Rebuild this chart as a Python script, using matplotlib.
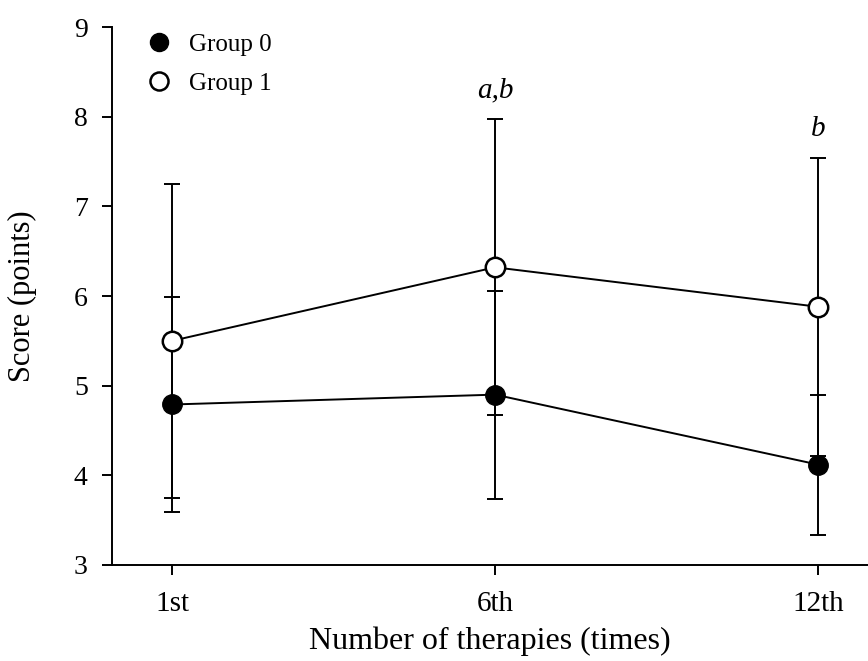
import numpy as np
import matplotlib
matplotlib.use("Agg")
import matplotlib.pyplot as plt
from matplotlib.lines import Line2D

plt.rcParams['font.family'] = ['Liberation Serif', 'DejaVu Serif']

# data
sessions = ['1st', '6th', '12th']
group0 = [4.79, 4.90, 4.12]
group0_sd = [1.20, 1.16, 0.78]
group1 = [5.50, 6.32, 5.88]
group1_sd = [1.75, 1.65, 1.66]
marks = ['', 'a,b', 'b']

x = np.arange(len(sessions))

fig = plt.figure(figsize=(8.68, 6.61), dpi=100)
ax = fig.add_axes([112/868, 96/661, 756/868, 538/661])

# error bars underneath the markers
ax.errorbar(x, group1, yerr=group1_sd, fmt='none', ecolor='black',
            elinewidth=1.4, capsize=6, capthick=1.4, zorder=1)
ax.errorbar(x, group0, yerr=group0_sd, fmt='none', ecolor='black',
            elinewidth=1.4, capsize=6, capthick=1.4, zorder=1)

ax.plot(x, group1, '-o', color='black', lw=1.4, markersize=14,
        markerfacecolor='white', markeredgewidth=1.8, zorder=3)
ax.plot(x, group0, '-o', color='black', lw=1.4, markersize=14,
        markerfacecolor='black', zorder=4)

# significance letters above the bars
for xi, m, v, sd in zip(x, marks, group1, group1_sd):
    if m:
        ax.text(xi, v + sd + 0.18, m, ha='center', va='bottom',
                fontsize=21, style='italic')

ax.set_xlim(-0.186, 2.155)
ax.set_ylim(3, 9)
ax.set_xticks(x)
ax.set_xticklabels(sessions)
ax.set_yticks(range(3, 10))

ax.spines['top'].set_visible(False)
ax.spines['right'].set_visible(False)
for s in ['left', 'bottom']:
    ax.spines[s].set_linewidth(1.4)
ax.tick_params(direction='out', length=7.5, width=1.4, labelsize=20)
ax.tick_params(axis='x', pad=11, labelsize=21)
ax.tick_params(axis='y', pad=10)

ax.set_ylabel('Score (points)', fontsize=22)
ax.set_xlabel('Number of therapies (times)', fontsize=23)
ax.yaxis.set_label_coords(-0.099, 0.5)
ax.xaxis.set_label_coords(0.5, -0.115)

handles = [Line2D([], [], ls='none', marker='o', color='black', markersize=13,
                  markerfacecolor='black'),
           Line2D([], [], ls='none', marker='o', color='black', markersize=13,
                  markerfacecolor='white', markeredgewidth=1.8)]
ax.legend(handles, ['Group 0', 'Group 1'], loc='upper left', frameon=False,
          fontsize=18, bbox_to_anchor=(0.012, 1.03), handletextpad=0.6,
          labelspacing=0.65, handlelength=1.2)

fig.savefig('out.png', dpi=100)
